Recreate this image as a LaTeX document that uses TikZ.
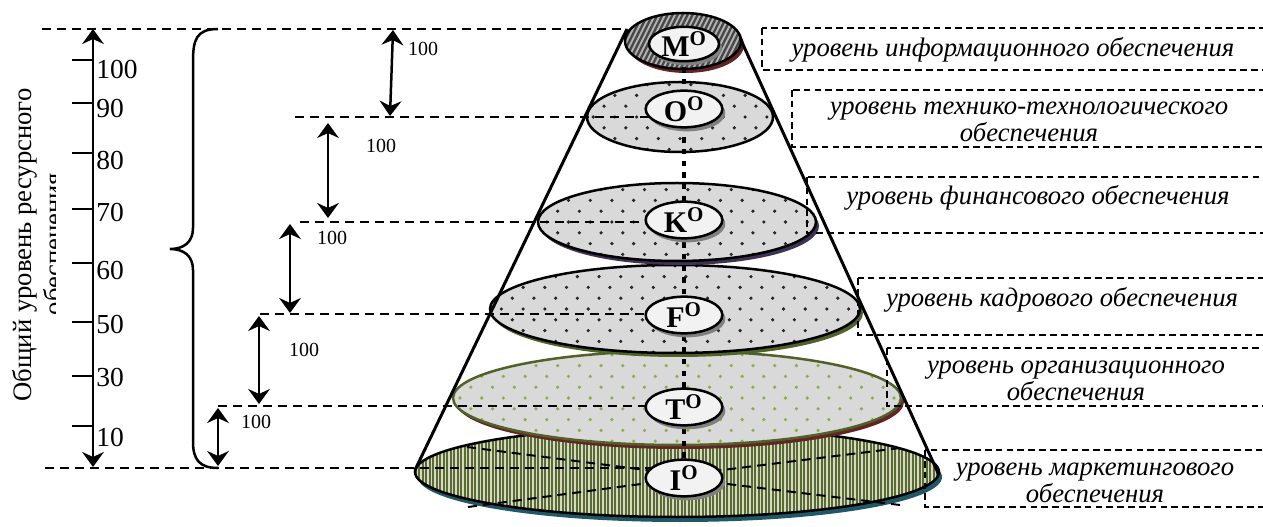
\documentclass[tikz,border=0pt]{standalone}
\usepackage{fontspec}
\setmainfont{Liberation Serif}
\usetikzlibrary{shapes.geometric,arrows.meta,shadows}
\definecolor{ringred}{RGB}{99,36,35}
\definecolor{ringgreen}{RGB}{79,98,40}
\definecolor{ringviolet}{RGB}{63,49,81}
\definecolor{ringteal}{RGB}{33,88,104}
\definecolor{dotgreen}{RGB}{140,175,75}
\definecolor{discgray}{RGB}{217,217,217}
\definecolor{stripeolive}{RGB}{88,108,44}
\definecolor{stripelight}{RGB}{215,215,205}
\definecolor{coregray}{RGB}{242,242,242}

\begin{document}
\begin{tikzpicture}[x=0.6pt,y=-0.6pt]

%
% Styles
%
\tikzstyle{disc} = [draw=black,line width=1.5pt]
\tikzstyle{core} = [ellipse,draw=black,line width=1.5pt,fill=coregray,minimum width=46pt,minimum height=22pt,inner sep=0pt,
                    drop shadow={shadow xshift=1.8pt,shadow yshift=-2.4pt,fill=black!50,opacity=1},
                    font=\fontsize{18}{18}\selectfont\bfseries]
\tikzstyle{guide} = [line width=1.2pt,dash pattern=on 5.5pt off 3.5pt]
\tikzstyle{spine} = [line width=2.8pt,dash pattern=on 3.2pt off 3.8pt]
\tikzstyle{bound} = [line width=1.8pt]
\tikzstyle{span} = [line width=1.5pt,{Stealth[length=9pt,width=13pt,inset=3pt]}-{Stealth[length=9pt,width=13pt,inset=3pt]}]
\tikzstyle{num} = [anchor=west,inner sep=0pt,font=\fontsize{16.5}{16.5}\selectfont]
\tikzstyle{hundred} = [inner sep=0pt,font=\fontsize{12}{12}\selectfont]
\tikzstyle{boxline} = [line width=0.9pt,dash pattern=on 4pt off 2.5pt]
\tikzstyle{caption} = [align=center,inner sep=0pt,font=\fontsize{16}{16}\selectfont\itshape]

\clip (0,0) rectangle (1263,527);

% bottom disc
\fill[ringteal] (680,477) ellipse [x radius=262, y radius=45];
\fill[stripeolive] (677,472) ellipse [x radius=262, y radius=45];
\begin{scope}
  \clip (677,472) ellipse [x radius=262, y radius=45];
  \foreach \i in {0,...,152}
    \draw[stripelight,line width=0.75pt] ({414+3.5*\i},420) -- ({414+3.5*\i},522);
\end{scope}
\draw[disc] (677,472) ellipse [x radius=262, y radius=45];

% dotted discs
\foreach \cx/\cy/\rx/\ry/\sh/\ln/\dc in {677/398/224/47/ringred/ringgreen/dotgreen,
                                         675/309/185/44/ringgreen/black/black!85,
                                         677/222/139/39/ringviolet/black/black!85,
                                         680/117/93/35/white/black/black!85}
{
  \fill[\sh] (\cx+3,\cy+4) ellipse [x radius=\rx, y radius=\ry];
  \fill[discgray] (\cx,\cy) ellipse [x radius=\rx, y radius=\ry];
  \begin{scope}
    \clip (\cx,\cy) ellipse [x radius=\rx, y radius=\ry];
    \foreach \j in {-5,...,5}
      \foreach \k in {-11,...,11}
        \fill[\dc] ({\cx+21.7*\k+10.85*Mod(\j,2)},{\cy+10.8*\j}) circle [radius=1.8];
  \end{scope}
  \draw[draw=\ln,line width=1.5pt] (\cx,\cy) ellipse [x radius=\rx, y radius=\ry];
}

% top ring
\fill[ringred] (686,45) ellipse [x radius=58, y radius=28];
\fill[black!72] (683,41) ellipse [x radius=58, y radius=28];
\begin{scope}
  \clip (683,41) ellipse [x radius=58, y radius=28];
  \foreach \i in {0,...,40}
    \draw[black!30,line width=1.2pt] ({600+5*\i},75) -- ++(40,-80);
\end{scope}
\draw[disc] (683,41) ellipse [x radius=58, y radius=28];

% level lines
\coordinate (cm) at (684,44);
\coordinate (ci) at (684,478);
\coordinate (tl) at (627,29);
\coordinate (tr) at (740,38);
\coordinate (bl) at (415,470);
\coordinate (br) at (939,475);
\coordinate (g0) at (42,29);
\coordinate (g1) at (295,117);
\coordinate (g2) at (300,222);
\coordinate (g3) at (260,314);
\coordinate (g4) at (218,406);
\coordinate (g5) at (45,468);

\draw[guide] (g0) -- (tl);
\foreach \g in {g1,g2,g3,g4,g5}
  \draw[guide] (\g) -- (\g -| cm);

\draw[spine] (cm) -- (ci);

\node[core,minimum width=42pt,minimum height=16pt] (m) at (684,44) {M\textsuperscript{O}};
\node[core] (o) at (684,109) {O\textsuperscript{O}};
\node[core] (k) at (684,220) {K\textsuperscript{O}};
\node[core] (f) at (684,315) {F\textsuperscript{O}};
\node[core] (t) at (684,407) {T\textsuperscript{O}};
\node[core] (i) at (684,478) {I\textsuperscript{O}};

% perspective lines in the bottom disc
\coordinate (x1) at (467,447);
\coordinate (x2) at (468,507);
\coordinate (x3) at (900,448);
\coordinate (x4) at (900,505);
\draw[guide] (x1) -- (i.168);
\draw[guide] (x2) -- (i.188);
\draw[guide] (x3) -- (i.12);
\draw[guide] (x4) -- (i.352);

% cone
\draw[bound] (tl) -- (bl);
\draw[bound] (tr) -- (br);

% scale
\coordinate (ax0) at (93,467);
\coordinate (ax1) at (93,29);
\draw[span,line width=1.6pt] (ax0) -- (ax1);
\foreach \v/\y/\ly in {100/60/69,90/103/108,80/153/160,70/209/212,60/263/270,50/322/324,30/376/377,10/426/437}
{
  \draw[line width=1.2pt] (72,\y) -- (93,\y);
  \node[num] (n\v) at (96,\ly) {\v};
}

\node[rotate=90,anchor=base,font=\fontsize{16}{16}\selectfont] (ttl) at (31,245) {Общий уровень ресурсного};
\begin{scope}
  \clip (0,0) rectangle (55,527);
  \node[rotate=90,anchor=base,font=\fontsize{16}{16}\selectfont] (ttl2) at (62,244) {обеспечения};
\end{scope}

% brace
\coordinate (br0) at (218,29);
\coordinate (br1) at (218,468);
\draw[line width=1.5pt] (br0) .. controls (196,29) and (193,40) .. (193,62) -- (193,228)
  .. controls (193,242) and (184,249) .. (170,249) .. controls (184,249) and (193,256) .. (193,270)
  -- (193,442) .. controls (193,460) and (200,468) .. (br1);

% steps
\coordinate (a1s) at (393,30);  \coordinate (a1e) at (390,116);
\coordinate (a2s) at (328,123); \coordinate (a2e) at (328,218);
\coordinate (a3s) at (290,224); \coordinate (a3e) at (290,313);
\coordinate (a4s) at (259,316); \coordinate (a4e) at (259,404);
\coordinate (a5s) at (218,408); \coordinate (a5e) at (218,466);
\draw[span] (a1s) -- (a1e);
\draw[span] (a2s) -- (a2e);
\draw[span] (a3s) -- (a3e);
\draw[span] (a4s) -- (a4e);
\draw[span] (a5s) -- (a5e);
\node[hundred] (h1) at (423,49)  {100};
\node[hundred] (h2) at (381,146) {100};
\node[hundred] (h3) at (332,238) {100};
\node[hundred] (h4) at (304,350) {100};
\node[hundred] (h5) at (256,422) {100};

% captions
\draw[boxline] (762,28) rectangle (1275,70);
\draw[boxline] (792,90) rectangle (1275,147);
\draw[boxline] (807,177) rectangle (1275,233);
\draw[boxline] (858,278) rectangle (1275,335);
\draw[boxline] (887,348) rectangle (1275,406);
\draw[boxline] (925,450) rectangle (1275,507);

\node[caption] (l1) at (1013,50)  {уровень информационного обеспечения};
\node[caption] (l2) at (1029,122) {уровень технико-технологического\\обеспечения};
\node[caption] (l3) at (1038,198) {уровень финансового обеспечения};
\node[caption] (l4) at (1062,300) {уровень кадрового обеспечения};
\node[caption] (l5) at (1076,381) {уровень организационного\\обеспечения};
\node[caption] (l6) at (1095,483) {уровень маркетингового\\обеспечения};

\end{tikzpicture}
\end{document}
